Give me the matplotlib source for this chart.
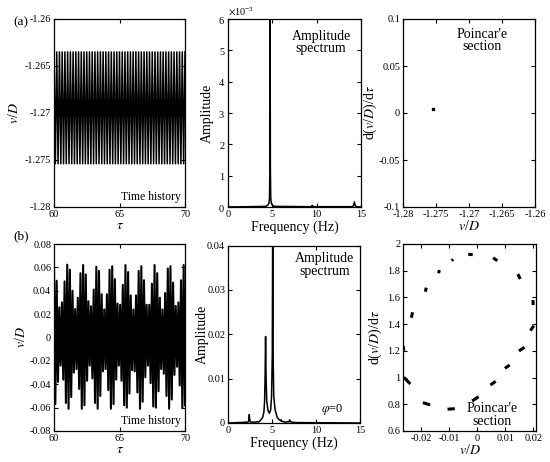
import matplotlib
matplotlib.use("Agg")
import matplotlib.pyplot as plt
import numpy as np
from matplotlib.ticker import FormatStrFormatter, ScalarFormatter

plt.rcParams['font.family'] = ['Liberation Serif', 'DejaVu Serif']
plt.rcParams['mathtext.fontset'] = 'stix'
plt.rcParams['axes.unicode_minus'] = False

# ---- (a) time history: constant amplitude oscillation
cycles_a = 48
peak_a_max = -1.2635
peak_a_min = -1.2754

# ---- (a) amplitude spectrum
freq_a = [0, 4.25, 4.5, 4.62, 4.68, 4.72, 4.75, 4.78, 4.82, 4.88, 5.0, 5.25,
          9.3, 9.45, 9.5, 9.55, 9.7, 14.0, 14.15, 14.25, 14.35, 14.5, 15]
amp_a = [0, 0.02e-3, 0.06e-3, 0.12e-3, 0.3e-3, 1.2e-3, 6.5e-3, 1.2e-3, 0.3e-3,
         0.12e-3, 0.06e-3, 0.02e-3, 0.01e-3, 0.03e-3, 0.05e-3, 0.03e-3, 0.01e-3,
         0.01e-3, 0.04e-3, 0.16e-3, 0.04e-3, 0.01e-3, 0]

# ---- (a) Poincare point
poin_a_x = [-1.2754]
poin_a_y = [0.004]

# ---- (b) time history: per-cycle peaks
peaks_b_up = [0.0615, 0.0486, 0.0258, 0.030, 0.048, 0.0623, 0.058, 0.040, 0.0244, 0.034,
              0.055, 0.062, 0.054, 0.031, 0.0267, 0.041, 0.0606, 0.057, 0.037, 0.024,
              0.037, 0.058, 0.061, 0.050, 0.029, 0.028, 0.045, 0.062, 0.056, 0.036,
              0.024, 0.036, 0.057, 0.061, 0.049, 0.028, 0.028, 0.046, 0.062, 0.055,
              0.034, 0.024, 0.038, 0.059, 0.061, 0.047, 0.027, 0.030, 0.049, 0.062]
peaks_b_low = [-0.057, -0.038, -0.024, -0.036, -0.056, -0.061, -0.051, -0.030, -0.027, -0.044,
               -0.061, -0.058, -0.037, -0.024, -0.035, -0.056, -0.061, -0.050, -0.029, -0.027,
               -0.045, -0.061, -0.057, -0.036, -0.024, -0.037, -0.058, -0.060, -0.048, -0.028,
               -0.029, -0.047, -0.061, -0.055, -0.034, -0.024, -0.039, -0.059, -0.060, -0.046,
               -0.027, -0.031, -0.050, -0.061, -0.053, -0.032, -0.025, -0.041, -0.060, -0.058]

# ---- (b) amplitude spectrum
freq_b = [0, 2.3, 2.38, 2.42, 2.46, 2.55, 3.2, 3.33, 3.45, 3.6, 3.95, 4.08, 4.16, 4.22,
          4.27, 4.32, 4.4, 4.55, 4.7, 4.85, 4.95, 5.03, 5.08, 5.13, 5.2, 5.35, 5.6,
          5.85, 6.0, 6.05, 6.1, 6.5, 6.95, 7.0, 7.05, 7.5, 15]
amp_b = [0, 0.0002, 0.0008, 0.0019, 0.0008, 0.0002, 0.0002, 0.0003, 0.0002, 0.0004,
         0.0013, 0.0025, 0.005, 0.011, 0.0195, 0.011, 0.005, 0.0028, 0.0022, 0.003,
         0.006, 0.015, 0.045, 0.015, 0.006, 0.003, 0.0012, 0.0007, 0.0005, 0.0007,
         0.0004, 0.0002, 0.0003, 0.0007, 0.0003, 0.0001, 0]

# ---- (b) Poincare section: short dashes (start / end)
dash_x0 = [-0.0091, -0.0032, 0.0057, 0.0145, 0.0199, 0.0190, 0.0149, 0.0099, 0.0047,
           -0.0018, -0.0106, -0.0194, -0.0262, -0.0264, -0.0235, -0.0185, -0.0138]
dash_x1 = [-0.0086, -0.0016, 0.0072, 0.0154, 0.0200, 0.0202, 0.0169, 0.0116, 0.0066,
           0.0005, -0.0080, -0.0168, -0.0239, -0.0262, -0.0231, -0.0182, -0.0135]
dash_y0 = [1.875, 1.923, 1.897, 1.775, 1.580, 1.351, 1.199, 1.069, 0.944,
           0.825, 0.763, 0.812, 1.002, 1.236, 1.448, 1.643, 1.781]
dash_y1 = [1.885, 1.920, 1.875, 1.738, 1.543, 1.388, 1.227, 1.094, 0.972,
           0.857, 0.767, 0.795, 0.952, 1.201, 1.489, 1.673, 1.805]

fig = plt.figure(figsize=(5.5, 4.62), dpi=100)

W = 550.0
H = 462.0
TICK_FS = 7.4


def add_ax(left, top, right, bottom):
    ax = fig.add_axes([left / W, 1 - bottom / H, (right - left) / W, (bottom - top) / H])
    ax.tick_params(direction='in', top=True, right=True, length=3, width=0.8,
                   labelsize=TICK_FS, pad=2)
    for s in ax.spines.values():
        s.set_linewidth(0.9)
    return ax


ax1 = add_ax(54, 19, 185, 207)
ax2 = add_ax(228, 19, 361, 207)
ax3 = add_ax(403, 19, 535, 207)
ax4 = add_ax(54, 244, 185, 431)
ax5 = add_ax(228, 245.5, 360, 423)
ax6 = add_ax(403, 244, 536, 431)

# (a) time history
t_a = np.linspace(60, 70, 2 * cycles_a + 1)
y_a = np.tile([peak_a_max, peak_a_min], cycles_a + 1)[:len(t_a)]
ax1.plot(t_a, y_a, color='black', lw=1.1)
ax1.set_xlim(60, 70)
ax1.set_ylim(-1.28, -1.26)
ax1.set_xticks([60, 65, 70])
ax1.set_yticks([-1.28, -1.275, -1.27, -1.265, -1.26])
ax1.yaxis.set_major_formatter(FormatStrFormatter('%g'))
ax1.set_xlabel(r'$\tau$', fontsize=10, labelpad=0)
ax1.set_ylabel(r'$v$/$D$', fontsize=10, labelpad=3)
ax1.text(0.97, 0.02, 'Time history', transform=ax1.transAxes, ha='right', va='bottom', fontsize=8.5)

# (a) spectrum
ax2.plot(freq_a, amp_a, color='black', lw=1.1)
ax2.set_xlim(0, 15)
ax2.set_ylim(0, 6e-3)
ax2.set_xticks([0, 5, 10, 15])
ax2.set_yticks(np.arange(0, 7) * 1e-3)
fmt = ScalarFormatter(useMathText=True)
fmt.set_powerlimits((-2, 2))
ax2.yaxis.set_major_formatter(fmt)
ax2.yaxis.get_offset_text().set_fontsize(TICK_FS)
ax2.set_xlabel('Frequency (Hz)', fontsize=10, labelpad=1)
ax2.set_ylabel('Amplitude', fontsize=10, labelpad=3)
ax2.text(0.7, 0.875, 'Amplitude\nspectrum', transform=ax2.transAxes, ha='center', va='center',
         fontsize=10, linespacing=0.95)

# (a) Poincare
ax3.plot(poin_a_x, poin_a_y, 's', color='black', ms=2)
ax3.set_xlim(-1.28, -1.26)
ax3.set_ylim(-0.1, 0.1)
ax3.set_xticks([-1.28, -1.275, -1.27, -1.265, -1.26])
ax3.set_yticks([-0.1, -0.05, 0, 0.05, 0.1])
ax3.xaxis.set_major_formatter(FormatStrFormatter('%g'))
ax3.yaxis.set_major_formatter(FormatStrFormatter('%g'))
ax3.set_xlabel(r'$v$/$D$', fontsize=10, labelpad=0)
ax3.set_ylabel(r'd($v$/$D$)/d$\tau$', fontsize=10, labelpad=0)
ax3.text(0.6, 0.885, "Poincar'e\nsection", transform=ax3.transAxes, ha='center', va='center',
         fontsize=10, linespacing=0.95)

# (b) time history
t_b = np.linspace(60, 70, 2 * len(peaks_b_up))
y_b = np.empty(2 * len(peaks_b_up))
y_b[0::2] = peaks_b_up
y_b[1::2] = peaks_b_low
ax4.plot(t_b, y_b, color='black', lw=1.5)
ax4.set_xlim(60, 70)
ax4.set_ylim(-0.08, 0.08)
ax4.set_xticks([60, 65, 70])
ax4.set_yticks([-0.08, -0.06, -0.04, -0.02, 0, 0.02, 0.04, 0.06, 0.08])
ax4.yaxis.set_major_formatter(FormatStrFormatter('%g'))
ax4.set_xlabel(r'$\tau$', fontsize=10, labelpad=0)
ax4.set_ylabel(r'$v$/$D$', fontsize=10, labelpad=1)
ax4.text(0.97, 0.02, 'Time history', transform=ax4.transAxes, ha='right', va='bottom', fontsize=8.5)

# (b) spectrum
ax5.plot(freq_b, amp_b, color='black', lw=1.1)
ax5.set_xlim(0, 15)
ax5.set_ylim(0, 0.04)
ax5.set_xticks([0, 5, 10, 15])
ax5.set_yticks([0, 0.01, 0.02, 0.03, 0.04])
ax5.yaxis.set_major_formatter(FormatStrFormatter('%g'))
ax5.set_xlabel('Frequency (Hz)', fontsize=10, labelpad=1)
ax5.set_ylabel('Amplitude', fontsize=10, labelpad=-1)
ax5.text(0.73, 0.89, 'Amplitude\nspectrum', transform=ax5.transAxes, ha='center', va='center',
         fontsize=10, linespacing=0.95)
ax5.text(0.79, 0.075, r'$\varphi$=0', transform=ax5.transAxes, ha='center', va='center', fontsize=9)

# (b) Poincare
for x0, x1, y0, y1 in zip(dash_x0, dash_x1, dash_y0, dash_y1):
    ax6.plot([x0, x1], [y0, y1], color='black', lw=2.2, solid_capstyle='butt')
ax6.set_xlim(-0.0265, 0.021)
ax6.set_ylim(0.6, 2)
ax6.set_xticks([-0.02, -0.01, 0, 0.01, 0.02])
ax6.set_yticks([0.6, 0.8, 1, 1.2, 1.4, 1.6, 1.8, 2])
ax6.xaxis.set_major_formatter(FormatStrFormatter('%g'))
ax6.yaxis.set_major_formatter(FormatStrFormatter('%g'))
ax6.set_xlabel(r'$v$/$D$', fontsize=10, labelpad=0)
ax6.set_ylabel(r'd($v$/$D$)/d$\tau$', fontsize=10, labelpad=2)
ax6.text(0.67, 0.085, "Poincar'e\nsection", transform=ax6.transAxes, ha='center', va='center',
         fontsize=10, linespacing=0.95)

fig.text(13 / W, 1 - 22 / H, '(a)', fontsize=9.5, ha='left', va='center')
fig.text(13 / W, 1 - 236 / H, '(b)', fontsize=9.5, ha='left', va='center')

fig.savefig('out.png', dpi=100)
plt.close(fig)
